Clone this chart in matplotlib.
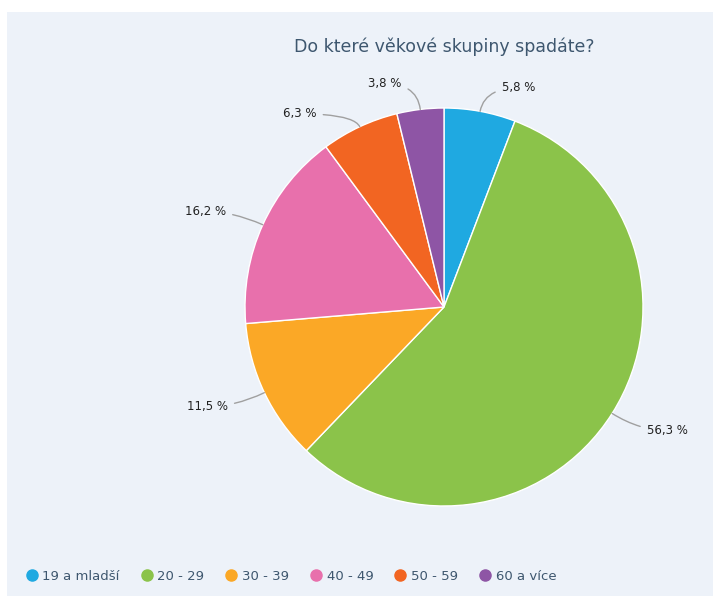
import numpy as np
import matplotlib
matplotlib.use("Agg")
import matplotlib.pyplot as plt
from matplotlib.patches import Rectangle
from matplotlib.lines import Line2D

title = "Do které věkové skupiny spadáte?"
categories = ["19 a mladší", "20 - 29", "30 - 39", "40 - 49", "50 - 59", "60 a více"]
shares = [5.8, 56.3, 11.5, 16.2, 6.3, 3.8]
colors = ["#1fa9e1", "#8bc34a", "#fba826", "#e870ac", "#f26522", "#8e55a5"]

W, H = 713, 596
cx, cy, R = 444, 307, 199  # pie centre and radius in pixels
text_col = "#3e576f"
# small pixel nudges for the crowded labels at the top (dx right, dy down)
nudge = {0: (8, 8), 4: (-22, 16), 5: (-7, 6)}

fig = plt.figure(figsize=(W / 100, H / 100), dpi=100, facecolor="white")
fig.patches.append(Rectangle((7 / W, 0), 1, 1 - 12 / H, transform=fig.transFigure,
                             facecolor="#edf2f9", edgecolor="none", zorder=-1))

ax = fig.add_axes([0, 0, 1, 1])
wedges, _ = ax.pie(shares, colors=colors, startangle=90, counterclock=False,
                   radius=1, wedgeprops=dict(edgecolor="white", linewidth=1))
# pie() resets the limits, so place the pie afterwards
ax.set_xlim(-cx / R, (W - cx) / R)
ax.set_ylim(-(H - cy) / R, cy / R)
ax.set_aspect("equal")
ax.axis("off")

for i, (w, v) in enumerate(zip(wedges, shares)):
    mid = np.deg2rad((w.theta1 + w.theta2) / 2)
    x0, y0 = np.cos(mid), np.sin(mid)
    lx, ly = 1.16 * x0, 1.16 * y0
    right = x0 >= 0
    tx = lx + (0.04 if right else -0.04)
    dx, dy = nudge.get(i, (0, 0))
    tx += dx / R
    ly -= dy / R
    ax.annotate(f"{v:.1f} %".replace(".", ","), xy=(x0, y0), xytext=(tx, ly),
                ha="left" if right else "right", va="center",
                fontsize=8.5, color="#222222",
                arrowprops=dict(arrowstyle="-", color="#a0a0a0", lw=1,
                                shrinkA=3, shrinkB=0,
                                connectionstyle="angle3,angleA=0,angleB=%d" % np.rad2deg(mid)))

fig.text(cx / W, 1 - 47 / H, title, ha="center", va="center",
         fontsize=12.5, color=text_col)

handles = [Line2D([], [], marker="o", linestyle="none", markersize=8,
                  markerfacecolor=c, markeredgecolor=c) for c in colors]
fig.legend(handles, categories, loc="center left", bbox_to_anchor=(20 / W, 1 - 576 / H),
           ncol=6, frameon=False, fontsize=9.5, labelcolor=text_col,
           handletextpad=0.3, columnspacing=1.55, handlelength=1.0,
           borderaxespad=0)

fig.savefig("out.png", dpi=100, facecolor=fig.get_facecolor())
